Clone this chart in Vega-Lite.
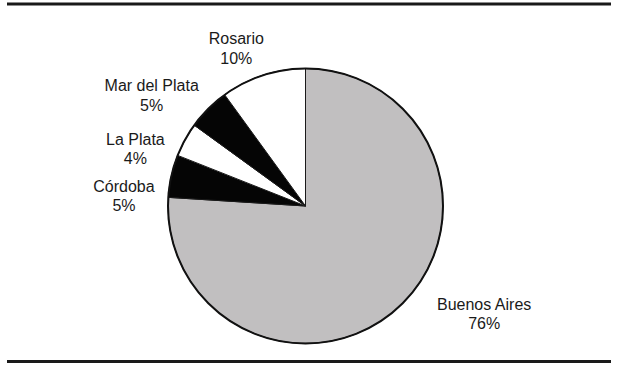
{
  "$schema": "https://vega.github.io/schema/vega-lite/v6.json",
  "width": 611,
  "height": 412,
  "autosize": "none",
  "padding": 0,
  "background": "white",
  "config": {"view": {"stroke": null}},
  "data": {
    "values": [
      {"name": "Buenos Aires", "share": 76},
      {"name": "Córdoba", "share": 5},
      {"name": "La Plata", "share": 4},
      {"name": "Mar del Plata", "share": 5},
      {"name": "Rosario", "share": 10}
    ]
  },
  "layer": [
    {
      "data": {"values": [{"edge": "top"}, {"edge": "bottom"}]},
      "mark": {"type": "rule", "strokeWidth": 3, "color": "#1a1a1a"},
      "encoding": {
        "y": {
          "field": "edge",
          "type": "nominal",
          "scale": {"type": "point", "domain": ["top", "bottom"], "range": [4, 361.5], "padding": 0},
          "axis": null
        },
        "x": {"value": 7},
        "x2": {"value": 618}
      }
    },
    {
      "mark": {"type": "arc", "radius": 137.5, "stroke": "#1a1a1a", "strokeWidth": 1},
      "encoding": {
        "theta": {"field": "share", "type": "quantitative", "stack": true},
        "color": {
          "field": "name",
          "type": "nominal",
          "scale": {
            "domain": ["Buenos Aires", "Córdoba", "La Plata", "Mar del Plata", "Rosario"],
            "range": ["#c1bfc0", "#050505", "#ffffff", "#050505", "#ffffff"]
          },
          "legend": null
        }
      }
    },
    {
      "data": {"values": [{}]},
      "mark": {
        "type": "arc",
        "radius": 137.5,
        "theta": 0,
        "theta2": {"expr": "2*PI"},
        "fillOpacity": 0,
        "stroke": "#111111",
        "strokeWidth": 2
      },
      "encoding": {}
    },
    {
      "transform": [
        {"calculate": "datum.name + '\\n' + datum.share + '%'", "as": "label"}
      ],
      "mark": {
        "type": "text",
        "radius": 185,
        "font": "Liberation Sans",
        "fontSize": 16,
        "lineBreak": "\n",
        "lineHeight": 19.5,
        "align": "center",
        "baseline": "middle",
        "color": "#1a1a1a",
        "dx": {"expr": "{'Buenos Aires': 52, 'Córdoba': -1, 'La Plata': -8, 'Mar del Plata': -23, 'Rosario': -12}[datum.name]"},
        "dy": {"expr": "{'Buenos Aires': -36, 'Córdoba': 21, 'La Plata': 23, 'Mar del Plata': 11, 'Rosario': 9}[datum.name]"}
      },
      "encoding": {
        "theta": {"field": "share", "type": "quantitative", "stack": true},
        "detail": {"field": "name", "type": "nominal"},
        "text": {"field": "label"}
      }
    }
  ]
}
